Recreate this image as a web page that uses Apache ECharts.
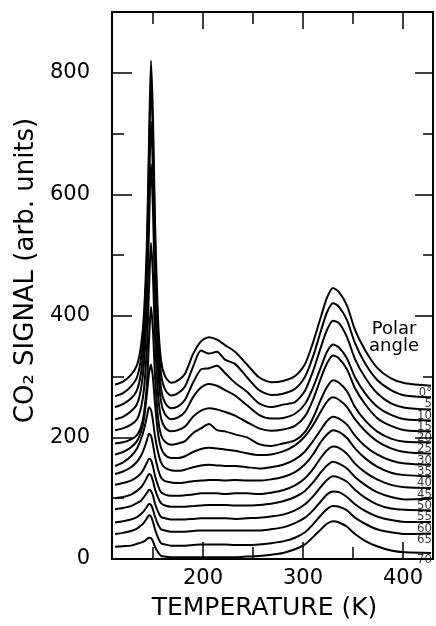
<!DOCTYPE html>
<html lang="en">
<head>
<meta charset="utf-8">
<title>CO2 signal vs temperature</title>
<script src="https://cdn.jsdelivr.net/npm/echarts@6/dist/echarts.min.js"></script>
<style>
  html, body { margin: 0; background: #fff; }
  #main { width: 436px; height: 626px; }
</style>
</head>
<body>
<div id="main"></div>
<script>
// temperatures (K) shared by every curve
var temps = [112, 120, 128, 134, 138, 141, 144, 146, 148, 150, 152, 155, 158, 162, 168, 175, 182, 190, 198, 206,
             214, 222, 232, 244, 256, 268, 280, 292, 302, 310, 318, 324, 330, 336, 344, 352, 362, 374, 388, 402, 428];

// CO2 signal, one array per polar angle (curves are offset vertically as in the figure)
var sig0  = [287, 292, 303, 319, 351, 404, 527, 687, 820, 725, 555, 396, 327, 301, 290, 294, 305, 337, 358, 365,
             361, 352, 341, 320, 299, 291, 293, 301, 321, 356, 399, 430, 446, 439, 417, 377, 344, 315, 297, 289, 285];
var sig5  = [268, 273, 284, 299, 330, 382, 501, 656, 785, 692, 527, 372, 305, 279, 269, 273, 284, 316, 343, 338,
             341, 328, 321, 299, 278, 270, 272, 280, 300, 333, 376, 406, 421, 415, 393, 355, 322, 295, 278, 269, 266];
var sig10 = [250, 255, 264, 278, 306, 353, 462, 603, 720, 635, 484, 342, 281, 257, 248, 251, 262, 290, 312, 314,
             318, 306, 290, 275, 256, 250, 254, 258, 277, 309, 349, 377, 392, 388, 365, 329, 299, 273, 256, 249, 246];
var sig15 = [230, 234, 243, 255, 280, 322, 419, 545, 650, 574, 440, 314, 259, 238, 230, 233, 242, 266, 282, 288,
             285, 278, 269, 253, 237, 231, 232, 239, 255, 282, 316, 341, 353, 348, 330, 299, 273, 251, 237, 230, 228];
var sig20 = [212, 215, 221, 230, 249, 280, 351, 443, 520, 465, 365, 272, 232, 216, 210, 212, 218, 234, 244, 248,
             246, 242, 236, 225, 215, 211, 213, 219, 235, 262, 298, 322, 335, 330, 312, 281, 255, 232, 219, 212, 210];
var sig25 = [190, 192, 197, 204, 217, 240, 291, 359, 415, 375, 302, 233, 204, 193, 188, 190, 194, 207, 215, 222,
             212, 210, 205, 200, 189, 186, 190, 195, 209, 232, 263, 283, 294, 290, 276, 250, 228, 210, 198, 193, 192];
var sig30 = [172, 176, 184, 194, 209, 231, 273, 305, 320, 297, 255, 207, 183, 171, 166, 166, 169, 176, 181, 183,
             182, 180, 178, 174, 171, 172, 177, 187, 202, 220, 243, 259, 266, 262, 250, 230, 211, 194, 182, 176, 173];
var sig35 = [153, 159, 169, 182, 197, 213, 235, 250, 245, 227, 202, 176, 159, 150, 146, 145, 147, 151, 154, 155,
             154, 153, 153, 151, 149, 151, 155, 164, 177, 194, 213, 227, 234, 231, 221, 203, 186, 172, 162, 157, 155];
var sig40 = [140, 144, 151, 160, 170, 181, 196, 206, 203, 188, 169, 148, 134, 128, 126, 125, 126, 128, 129, 130,
             130, 129, 130, 129, 129, 131, 135, 143, 156, 172, 193, 205, 212, 209, 199, 182, 166, 152, 142, 138, 136];
var sig45 = [122, 125, 129, 135, 141, 149, 159, 165, 163, 152, 137, 121, 110, 106, 104, 104, 105, 106, 108, 108,
             108, 107, 108, 108, 107, 109, 113, 121, 133, 148, 167, 179, 185, 183, 173, 157, 143, 131, 122, 118, 117];
var sig50 = [100, 102, 106, 112, 118, 125, 134, 140, 138, 128, 115, 101, 92, 88, 86, 86, 86, 87, 88, 89,
             89, 89, 88, 88, 89, 91, 95, 102, 112, 126, 143, 154, 160, 157, 149, 135, 122, 110, 102, 98, 99];
var sig55 = [82, 84, 87, 92, 96, 102, 109, 114, 112, 104, 91, 78, 69, 67, 65, 65, 65, 66, 67, 67,
             67, 67, 66, 67, 68, 70, 73, 80, 90, 103, 119, 130, 136, 134, 127, 114, 101, 90, 83, 81, 80];
var sig60 = [60, 62, 65, 69, 74, 79, 86, 91, 89, 81, 70, 57, 49, 47, 45, 45, 45, 46, 47, 47,
             47, 47, 47, 47, 47, 49, 52, 59, 68, 80, 95, 106, 111, 110, 102, 90, 79, 70, 64, 61, 61];
var sig65 = [41, 43, 46, 50, 55, 60, 67, 72, 70, 61, 49, 35, 26, 24, 22, 22, 22, 23, 24, 24,
             24, 24, 23, 23, 24, 26, 29, 35, 44, 57, 72, 82, 87, 86, 80, 68, 58, 49, 44, 41, 42];
var sig70 = [20, 21, 22, 25, 27, 29, 33, 35, 34, 29, 20, 11, 5, 4, 3, 3, 3, 3, 3, 3,
             3, 3, 3, 4, 5, 7, 10, 16, 24, 36, 49, 58, 62, 60, 53, 41, 30, 21, 14, 11, 10];

var angleLabels = ['0°', '5', '10', '15', '20', '25', '30', '35', '40', '45', '50', '55', '60', '65', '70'];
var curves = [sig0, sig5, sig10, sig15, sig20, sig25, sig30, sig35, sig40, sig45, sig50, sig55, sig60, sig65, sig70];

// tick positions
var xMajor = [200, 300, 400];
var xMinor = [150, 250, 350];
var yMajor = [0, 200, 400, 600, 800];
var yMinor = [100, 300, 500, 700];

var ink = '#000';
var font = 'DejaVu Sans';

var myChart = echarts.init(document.getElementById('main'), null, { renderer: 'canvas' });

// one axis = one set of inward ticks (major or minor) on one side
function xAx(pos, ticks, len, labels) {
  return {
    type: 'value', position: pos, min: 109, max: 430,
    splitLine: { show: false },
    axisLine: { show: true, onZero: false, lineStyle: { color: ink, width: 2 } },
    axisTick: { show: true, inside: true, length: len, customValues: ticks, lineStyle: { color: ink, width: 1.5 } },
    axisLabel: labels ? { show: true, customValues: ticks, margin: 9, color: ink, fontSize: 21, fontFamily: font }
                      : { show: false }
  };
}
function yAx(pos, ticks, len, labels) {
  return {
    type: 'value', position: pos, min: 0, max: 900,
    splitLine: { show: false },
    axisLine: { show: true, onZero: false, lineStyle: { color: ink, width: 2 } },
    axisTick: { show: true, inside: true, length: len, customValues: ticks, lineStyle: { color: ink, width: 1.5 } },
    axisLabel: labels ? { show: true, customValues: ticks, margin: 22, color: ink, fontSize: 21, fontFamily: font }
                      : { show: false }
  };
}

var xBottom = xAx('bottom', xMajor, 17, true);
xBottom.name = 'TEMPERATURE (K)';
xBottom.nameLocation = 'middle';
xBottom.nameGap = 37;
xBottom.nameTextStyle = { color: ink, fontSize: 25, fontFamily: font, padding: [0, 16, 0, 0] };

var yLeft = yAx('left', yMajor, 20, true);
yLeft.name = 'CO\u2082 SIGNAL (arb. units)';
yLeft.nameLocation = 'middle';
yLeft.nameGap = 68;
yLeft.nameTextStyle = { color: ink, fontSize: 26, fontFamily: font, padding: [0, 0, 0, 30] };

var series = curves.map(function (c, k) {
  return {
    type: 'line',
    name: angleLabels[k],
    xAxisIndex: 0, yAxisIndex: 0,
    showSymbol: false,
    smooth: 0.25,
    lineStyle: { color: ink, width: 2 },
    data: temps.map(function (t, i) { return [t, c[i]]; }),
    z: 3
  };
});

// angle labels sit just under the right-hand end of each curve
series.push({
  type: 'scatter',
  xAxisIndex: 0, yAxisIndex: 0,
  symbolSize: 0,
  silent: true,
  data: curves.map(function (c, k) {
    return { value: [temps[temps.length - 1], c[c.length - 1]], name: angleLabels[k] };
  }),
  label: {
    show: true,
    position: [1, 0],
    align: 'right',
    verticalAlign: 'top',
    formatter: '{b}',
    color: ink,
    fontSize: 13,
    fontFamily: "'Liberation Sans Narrow', 'DejaVu Sans Condensed', 'DejaVu Sans'",
    backgroundColor: 'transparent'
  },
  z: 4
});

myChart.setOption({
  backgroundColor: '#fff',
  animation: false,
  grid: { left: 112, right: 3, top: 12, bottom: 63 },
  xAxis: [xBottom, xAx('bottom', xMinor, 12, false), xAx('top', xMajor, 17, false), xAx('top', xMinor, 12, false)],
  yAxis: [yLeft, yAx('left', yMinor, 12, false), yAx('right', yMajor, 18, false), yAx('right', yMinor, 10, false)],
  graphic: [{
    type: 'text',
    x: 394, y: 321,
    style: { text: 'Polar\nangle', align: 'center', verticalAlign: 'top', fontSize: 18, lineHeight: 17,
             fontFamily: font, fill: ink }
  }],
  series: series
});
</script>
</body>
</html>
